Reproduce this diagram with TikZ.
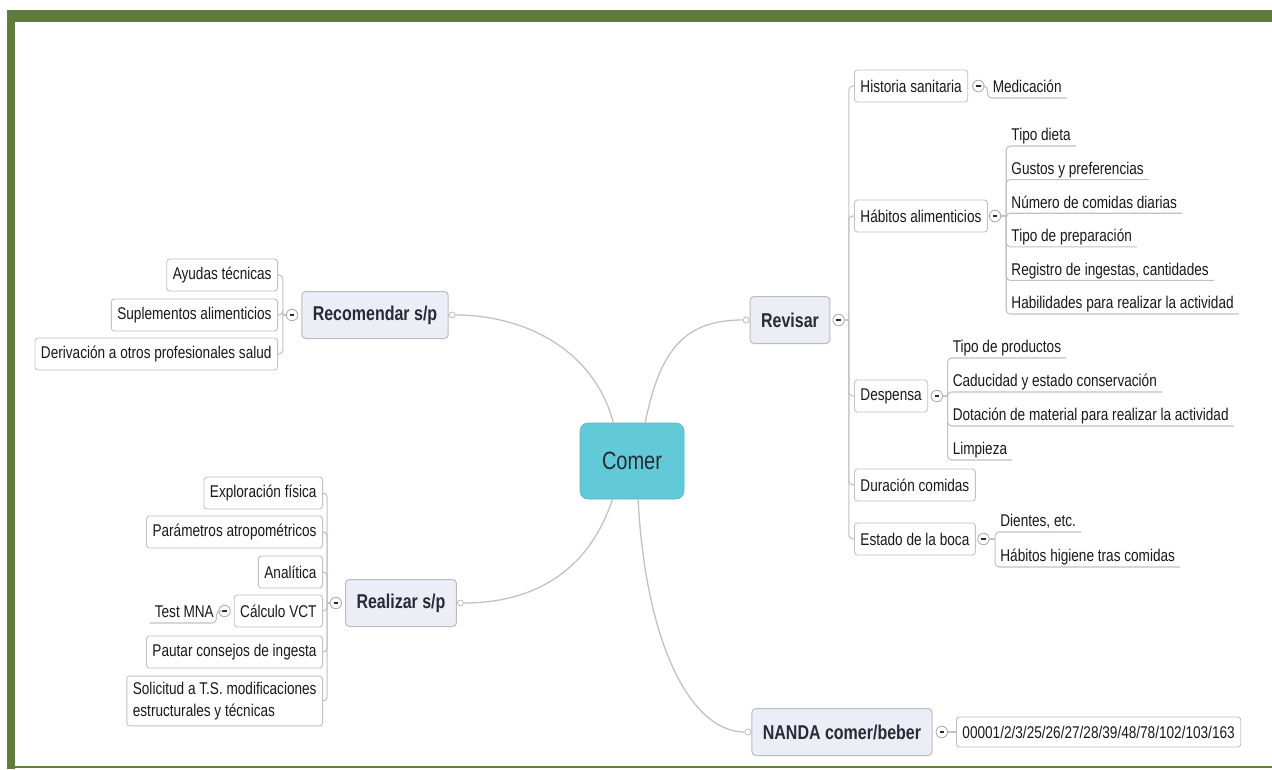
\documentclass[tikz,border=0pt]{standalone}
\usepackage{fontspec}
\setmainfont{Liberation Sans}[FakeStretch=0.8]
\usetikzlibrary{positioning}

\definecolor{framegreen}{RGB}{97,123,60}
\definecolor{comerfill}{RGB}{98,201,216}
\definecolor{branchfill}{RGB}{236,238,246}
\definecolor{branchline}{RGB}{186,186,196}
\definecolor{linkgray}{RGB}{196,194,192}
\definecolor{inkgray}{RGB}{42,42,52}

\tikzset{
  hub/.style={fill=comerfill, draw=comerfill!90!black, line width=0.6pt, rounded corners=8pt,
    minimum width=104pt, minimum height=76pt, text=inkgray, font=\fontsize{25}{27}\selectfont},
  branch/.style={draw=branchline, fill=branchfill, line width=1pt, rounded corners=4pt,
    minimum height=47pt, inner xsep=11pt, text=inkgray, font=\fontsize{20}{22}\selectfont\bfseries},
  item/.style={draw=linkgray, fill=white, line width=0.9pt, rounded corners=3pt,
    minimum height=32pt, inner xsep=6pt, text=black!90, font=\fontsize{17}{19}\selectfont},
  leaf/.style={inner xsep=5pt, inner ysep=1.5pt, text height=12pt, text depth=3.5pt,
    text=black!90, font=\fontsize{17}{19}\selectfont},
  knob/.style={circle, draw=linkgray, fill=white, line width=0.9pt, inner sep=0pt, minimum size=6pt},
  foldbtn/.style={circle, draw=linkgray!90!black, fill=white, line width=0.9pt, inner sep=0pt,
    minimum size=11.5pt,
    path picture={\draw[inkgray, line width=1.4pt]
      ([xshift=-2.2pt]path picture bounding box.center) -- ([xshift=2.2pt]path picture bounding box.center);}},
  link/.style={draw=linkgray, line width=1.1pt, rounded corners=4pt},
  stem/.style={draw=linkgray, line width=1.3pt},
}

\begin{document}
\begin{tikzpicture}[x=1pt, y=-1pt]
  \useasboundingbox (0,0) rectangle (1272,769);

  % green frame
  \fill[framegreen] (7,10) rectangle (1272,22);
  \fill[framegreen] (7,10) rectangle (15,769);
  \fill[framegreen] (7,766) rectangle (1272,768);

  % centre
  \node[hub] (comer) at (632,461) {Comer};

  % Recomendar s/p
  \node[branch] (rec) at (375,315) {Recomendar s/p};
  \node[knob, right=0pt of rec] (reck) {};
  \node[foldbtn, left=3pt of rec] (recm) {};
  \coordinate[left=3pt of recm] (recb);
  \node[item, anchor=east] (ayudas) at (278,275) {Ayudas técnicas};
  \node[item, anchor=east] (suple) at (278,315) {Suplementos alimenticios};
  \node[item, anchor=east] (deriv) at (278,354) {Derivación a otros profesionales salud};
  \draw[link] (recm) -- (recb);
  \foreach \c in {ayudas,suple,deriv}
    \draw[link] (recb) |- (\c.east);

  % Realizar s/p
  \node[branch] (real) at (401,603) {Realizar s/p};
  \node[knob, right=0pt of real] (realk) {};
  \node[foldbtn, left=3pt of real] (realm) {};
  \coordinate[left=2.5pt of realm] (realb);
  \node[item, anchor=east] (explo) at (323,493) {Exploración física};
  \node[item, anchor=east] (param) at (323,532) {Parámetros atropométricos};
  \node[item, anchor=east] (anal) at (323,572) {Analítica};
  \node[item, anchor=east] (calc) at (323,611) {Cálculo VCT};
  \node[item, anchor=east] (pautar) at (323,652) {Pautar consejos de ingesta};
  \node[item, anchor=east, align=left, inner ysep=6pt, font=\fontsize{17}{22}\selectfont] (solic) at (323,701)
    {Solicitud a T.S. modificaciones\\estructurales y técnicas};
  \draw[link] (realm) -- (realb);
  \foreach \c in {explo,param,anal,calc,pautar,solic}
    \draw[link] (realb) |- (\c.east);
  \node[foldbtn, left=3pt of calc] (calcm) {};
  \coordinate[left=2pt of calcm] (calcb);
  \node[leaf, anchor=south east] (tmna) at (219,623) {Test MNA};
  \draw[link] (calcm) -- (calcb) |- (tmna.south west);

  % Revisar
  \node[branch] (rev) at (790,320) {Revisar};
  \node[knob, left=0pt of rev] (revk) {};
  \node[foldbtn, right=2pt of rev] (revm) {};
  \coordinate[right=4pt of revm] (revb);
  \node[item, anchor=west] (hist) at (854,86) {Historia sanitaria};
  \node[item, anchor=west] (hab) at (854,216) {Hábitos alimenticios};
  \node[item, anchor=west] (desp) at (854,396) {Despensa};
  \node[item, anchor=west] (dur) at (854,485) {Duración comidas};
  \node[item, anchor=west] (boca) at (854,539) {Estado de la boca};
  \draw[link] (revm) -- (revb);
  \foreach \c in {hist,hab,desp,dur,boca}
    \draw[link] (revb) |- (\c.west);

  % Historia sanitaria
  \node[foldbtn, right=4pt of hist] (histm) {};
  \coordinate[right=3pt of histm] (histb);
  \node[leaf, anchor=south west] (medic) at (histb |- 0,98) {Medicación};
  \draw[link] (histm) -- (histb) |- (medic.south east);

  % Habitos alimenticios
  \node[foldbtn, right=1pt of hab] (habm) {};
  \coordinate[right=5pt of habm] (habb);
  \node[leaf, anchor=south west] (tdieta) at (habb |- 0,146) {Tipo dieta};
  \node[leaf, anchor=south west] (gustos) at (habb |- 0,179.6) {Gustos y preferencias};
  \node[leaf, anchor=south west] (numero) at (habb |- 0,213.2) {Número de comidas diarias};
  \node[leaf, anchor=south west] (tprep) at (habb |- 0,246.8) {Tipo de preparación};
  \node[leaf, anchor=south west] (registro) at (habb |- 0,280.4) {Registro de ingestas, cantidades};
  \node[leaf, anchor=south west] (habil) at (habb |- 0,314) {Habilidades para realizar la actividad};
  \draw[link] (habm) -- (habb);
  \foreach \c in {tdieta,gustos,numero,tprep,registro,habil}
    \draw[link] (habb) |- (\c.south east);

  % Despensa
  \node[foldbtn, right=2.5pt of desp] (despm) {};
  \coordinate[right=4.5pt of despm] (despb);
  \node[leaf, anchor=south west] (tprod) at (despb |- 0,358) {Tipo de productos};
  \node[leaf, anchor=south west] (caduc) at (despb |- 0,392) {Caducidad y estado conservación};
  \node[leaf, anchor=south west] (dotac) at (despb |- 0,426) {Dotación de material para realizar la actividad};
  \node[leaf, anchor=south west] (limp) at (despb |- 0,460) {Limpieza};
  \draw[link] (despm) -- (despb);
  \foreach \c in {tprod,caduc,dotac,limp}
    \draw[link] (despb) |- (\c.south east);

  % Estado de la boca
  \node[foldbtn, right=1.5pt of boca] (bocam) {};
  \coordinate[right=5.5pt of bocam] (bocab);
  \node[leaf, anchor=south west] (dientes) at (bocab |- 0,532) {Dientes, etc.};
  \node[leaf, anchor=south west] (higiene) at (bocab |- 0,567) {Hábitos higiene tras comidas};
  \draw[link] (bocam) -- (bocab);
  \foreach \c in {dientes,higiene}
    \draw[link] (bocab) |- (\c.south east);

  % NANDA
  \node[branch] (nanda) at (842,732) {NANDA comer/beber};
  \node[knob, left=0pt of nanda] (nandak) {};
  \node[foldbtn, right=3pt of nanda] (nandam) {};
  \node[item, minimum height=30pt, right=8pt of nandam] (codes) {00001/2/3/25/26/27/28/39/48/78/102/103/163};
  \draw[link] (nandam) -- (codes);

  % main branches
  \draw[stem] (comer.116) .. controls +(-20,-75) and +(70,0) .. (reck);
  \draw[stem] (comer.71) .. controls +(15,-75) and +(-60,0) .. (revk);
  \draw[stem] (comer.243) .. controls +(-25,75) and +(70,0) .. (realk);
  \draw[stem] (comer.279) .. controls +(8,150) and +(-55,0) .. (nandak);
\end{tikzpicture}
\end{document}
